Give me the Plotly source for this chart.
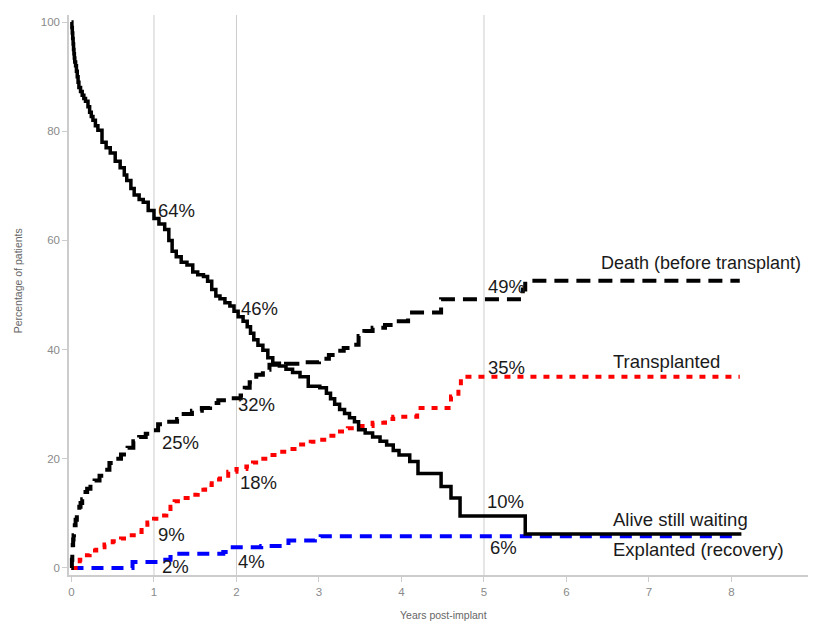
import plotly.graph_objects as go

# ---- data ----
alive_x = [0, 0.005, 0.01, 0.015, 0.02, 0.025, 0.03, 0.035, 0.04, 0.05, 0.06, 0.07, 0.08, 0.09, 0.11,
           0.13, 0.15, 0.17, 0.2, 0.22, 0.24, 0.26, 0.29, 0.32, 0.37, 0.42, 0.47, 0.53, 0.59, 0.64, 0.67,
           0.72, 0.76, 0.82, 0.87, 0.93, 1.0, 1.06, 1.13, 1.18, 1.22, 1.27, 1.33, 1.4, 1.47, 1.53, 1.6,
           1.65, 1.7, 1.75, 1.8, 1.86, 1.92, 1.97, 2.02, 2.08, 2.13, 2.17, 2.21, 2.26, 2.32, 2.38, 2.44,
           2.52, 2.6, 2.68, 2.77, 2.87, 3.01, 3.09, 3.14, 3.19, 3.25, 3.31, 3.37, 3.43, 3.48, 3.56, 3.65,
           3.74, 3.82, 3.9, 3.97, 4.10, 4.2, 4.48, 4.6, 4.71, 5.5, 8.12]
alive_y = [100, 99, 98, 97, 96, 95, 94.2, 93.4, 92.7, 92, 91, 90, 89, 88, 87.3,
           86.6, 86, 85.5, 84.5, 83.5, 82.7, 82, 81, 80.2, 78, 77, 76, 74.5, 73.3, 72, 71,
           69.5, 68.3, 67.5, 67, 65.5, 64, 63, 62, 60, 58, 57, 56, 55.5, 54.2, 53.7, 53.4,
           52.5, 51, 49.8, 49.3, 48.6, 48, 47, 46, 45.2, 44.2, 43, 41.8, 40.8, 39.9, 38.5, 37.5,
           37, 36.4, 35.8, 35, 33.3, 33, 32, 31, 30, 29, 28.3, 27.5, 26.8, 25.3, 24.7, 24,
           23.2, 22.5, 21.5, 20.7, 19.5, 17.3, 14.9, 12.8, 9.5, 6.2, 6.2]

death_x = [0, 0.005, 0.01, 0.015, 0.02, 0.025, 0.03, 0.04, 0.05, 0.065, 0.08, 0.095, 0.11, 0.13, 0.15,
           0.17, 0.19, 0.23, 0.28, 0.34, 0.4, 0.46, 0.52, 0.6,
           0.68, 0.75, 0.82, 0.9, 0.97, 1.05, 1.12, 1.28, 1.36, 1.46, 1.58, 1.68, 1.78, 1.9, 2.05, 2.1,
           2.16, 2.24, 2.32, 2.4, 2.6, 2.8, 3.0, 3.12, 3.2, 3.3, 3.4, 3.48, 3.55, 3.65, 3.8, 3.9,
           4.08, 4.48, 5.47, 5.5, 8.1]
death_y = [0, 1.5, 3, 4.2, 5.2, 6, 6.8, 7.8, 8.8, 9.7, 10.5, 11.2, 11.9, 12.6, 13.2,
           13.9, 14.5, 15.3, 16, 16.9, 18, 19.2, 20, 20.8,
           22, 23.2, 24, 24.6, 25.2, 26.3, 26.8, 27.3, 28.2, 28.8, 29.3, 30.2, 30.7, 31.1, 31.6, 33,
           34, 35.4, 36.3, 37.2, 37.4, 37.7, 38.3, 39, 39.8, 40.3, 40.9, 42.5, 43.4, 44, 44.5, 45.2,
           46.8, 49.2, 51, 52.6, 52.6]

trans_x = [0, 0.05, 0.1, 0.16, 0.22, 0.3, 0.4, 0.5, 0.6, 0.7, 0.78, 0.85, 0.92, 1.0, 1.08, 1.15,
           1.2, 1.25, 1.35, 1.45, 1.53, 1.62, 1.7, 1.8, 1.9, 2.0, 2.12, 2.2, 2.3, 2.4, 2.5, 2.62,
           2.75, 2.9, 3.01, 3.1, 3.2, 3.35, 3.5, 3.65, 3.8, 3.9, 4.19, 4.6, 4.69, 4.72, 8.1]
trans_y = [0, 0.8, 1.5, 2.3, 3.2, 3.8, 4.3, 4.9, 5.4, 6, 6.6, 7.5, 8.3, 9, 9.6, 10.2,
           11.2, 12.2, 12.8, 13.4, 14.3, 15.2, 16.2, 16.9, 17.6, 18.1, 18.6, 19.3, 20, 20.7, 21.3, 21.8,
           22.6, 23.1, 23.5, 24.2, 25, 25.6, 26, 26.6, 27.3, 27.7, 29.3, 31.4, 33.2, 35, 35]

expl_x = [0, 0.68, 0.74, 1.07, 1.2, 1.25, 1.84, 1.9, 2.3, 2.58, 2.63, 2.95, 3.02, 8.1]
expl_y = [0, 0, 1.1, 1.5, 2.0, 2.6, 2.9, 3.8, 4.0, 4.0, 5.0, 5.4, 5.8, 5.8]

# percentage labels: (x, y, text)
pct_x = [1.03, 2.03, 2.0, 1.07, 2.02, 1.03, 1.07, 2.0, 5.02, 5.02, 5.01, 5.05]
pct_y = [65.4, 47.6, 30.0, 22.9, 15.6, 6.2, 0.2, 1.1, 51.5, 36.8, 12.1, 3.7]
pct_text = ["64%", "46%", "32%", "25%", "18%", "9%", "2%", "4%", "49%", "35%", "10%", "6%"]

# curve names
name_x = [6.40, 6.54, 6.54, 6.54]
name_y = [55.9, 37.9, 8.8, 3.3]
name_text = ["Death (before transplant)", "Transplanted", "Alive still waiting", "Explanted (recovery)"]
name_size = [18, 18.5, 18.5, 18.5]

x_ticks = [0, 1, 2, 3, 4, 5, 6, 7, 8, 9]
y_ticks = [0, 20, 40, 60, 80, 100]
ref_lines = [1, 2, 5]

FONT = "Liberation Sans, Arial, sans-serif"

fig = go.Figure()

for xv in ref_lines:
    fig.add_shape(type="line", xref="x", yref="paper", x0=xv, x1=xv, y0=0, y1=1,
                  line=dict(color="#cdcdcd", width=1), layer="below")

fig.add_trace(go.Scatter(x=expl_x, y=expl_y, mode="lines", line_shape="hv",
                         line=dict(color="#0000ff", width=4, dash="12px,8px"), name="Explanted"))
fig.add_trace(go.Scatter(x=trans_x, y=trans_y, mode="lines", line_shape="hv",
                         line=dict(color="#ff0000", width=4, dash="6px,7px"), name="Transplanted"))
fig.add_trace(go.Scatter(x=death_x, y=death_y, mode="lines", line_shape="hv",
                         line=dict(color="#000000", width=4, dash="14px,8px"), name="Death"))
fig.add_trace(go.Scatter(x=alive_x, y=alive_y, mode="lines", line_shape="hv",
                         line=dict(color="#000000", width=3.5), name="Alive"))

for x, y, t in zip(pct_x, pct_y, pct_text):
    fig.add_annotation(x=x, y=y, text=t, showarrow=False, xanchor="left", yanchor="middle",
                       font=dict(family=FONT, size=18.5, color="#1a1a1a"))
for x, y, t, s in zip(name_x, name_y, name_text, name_size):
    fig.add_annotation(x=x, y=y, text=t, showarrow=False, xanchor="left", yanchor="middle",
                       font=dict(family=FONT, size=s, color="#1a1a1a"))

# axis titles
fig.add_annotation(xref="paper", yref="paper", x=-0.068, y=0.525, text="Percentage of patients",
                   textangle=-90, showarrow=False, xanchor="center", yanchor="middle",
                   font=dict(family=FONT, size=10.5, color="#666666"))
fig.add_annotation(xref="paper", yref="paper", x=0.503, y=-0.071, text="Years post-implant",
                   showarrow=False, xanchor="center", yanchor="middle",
                   font=dict(family=FONT, size=10.5, color="#666666"))

# page body has an 8px margin, so the figure is kept 8px smaller than the window
fig.update_layout(
    width=808, height=616,
    margin=dict(l=61, r=2, t=7, b=49),
    paper_bgcolor="white", plot_bgcolor="white",
    showlegend=False,
    font=dict(family=FONT),
)
fig.update_xaxes(range=[-0.03, 9.0], tickvals=x_ticks, showgrid=False, zeroline=False,
                 showline=True, linecolor="#cccccc", linewidth=1.5,
                 ticks="outside", ticklen=5, tickcolor="#cccccc",
                 tickfont=dict(family=FONT, size=11.5, color="#8a8a8a"))
fig.update_yaxes(range=[-1.3, 101.3], tickvals=y_ticks, showgrid=False, zeroline=False,
                 showline=True, linecolor="#cccccc", linewidth=1.5,
                 ticks="outside", ticklen=5, tickcolor="#cccccc",
                 tickfont=dict(family=FONT, size=11.5, color="#8a8a8a"))

fig.write_html("out.html")
